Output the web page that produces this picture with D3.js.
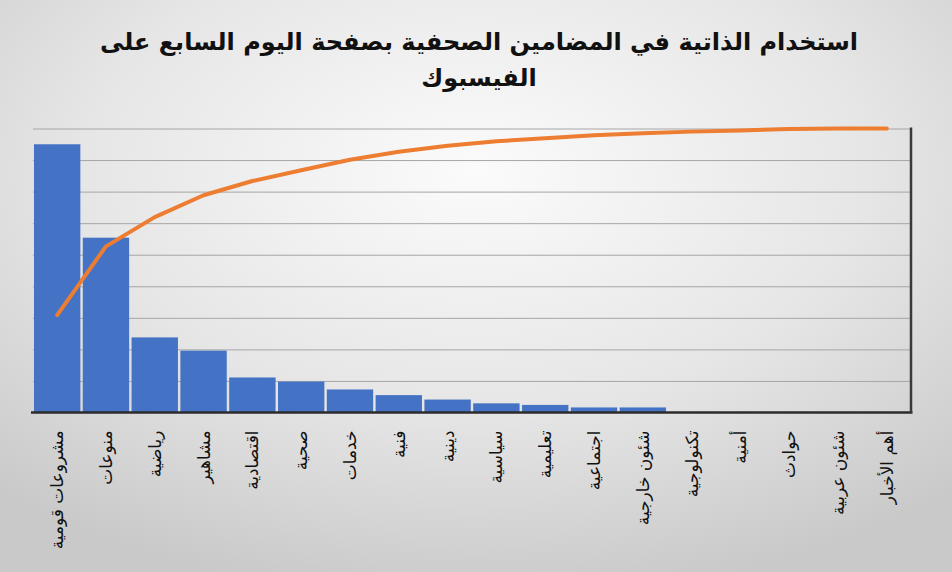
<!DOCTYPE html>
<html>
<head>
<meta charset="utf-8">
<script src="https://cdn.jsdelivr.net/npm/d3@7"></script>
<style>
  body { margin: 0; padding: 0; overflow: hidden; }
  .grid line { stroke: #a6a6a6; stroke-width: 1; }
  .grid path { display: none; }
  .xlab text { font-family: "DejaVu Sans", sans-serif; font-size: 17px; fill: #111; }
</style>
</head>
<body>
<div id="chart"></div>
<script>
      var categories = ['مشروعات قومية', 'منوعات', 'رياضية', 'مشاهير', 'اقتصادية', 'صحية', 'خدمات',
                        'فنية', 'دينية', 'سياسية', 'تعليمية', 'اجتماعية', 'شئون خارجية', 'تكنولوجية',
                        'أمنية', 'حوادث', 'شئون عربية', 'أهم الأخبار'];
      // bar heights (gridline = 10)
      var counts = [85, 55.4, 23.8, 19.6, 11.1, 9.8, 7.3, 5.5, 4.1, 2.9, 2.4, 1.6, 1.6, 0, 0, 0, 0, 0];
      // cumulative percent (orange line)
      var cumulative = [34.3, 58.5, 68.8, 76.5, 81.5, 85.3, 89.0, 91.8, 93.9, 95.5, 96.6, 97.6, 98.3,
                        98.9, 99.3, 99.8, 100, 100];
      var countTicks = [0, 10, 20, 30, 40, 50, 60, 70, 80, 90];
      var titleLines = ['استخدام الذاتية في المضامين الصحفية بصفحة اليوم السابع على', 'الفيسبوك'];

      var width = 952;
      var height = 572;
      var margin = { top: 128.5, right: 41, bottom: 159.5, left: 33 };

      var svg = d3.select('#chart').append('svg')
                  .attr('width', width)
                  .attr('height', height);

      // background
      var defs = svg.append('defs');
      var grad = defs.append('radialGradient').attr('id', 'bg')
                     .attr('cx', '50%').attr('cy', '30%').attr('r', '75%');
      grad.append('stop').attr('offset', '0%').attr('stop-color', '#fbfbfb');
      grad.append('stop').attr('offset', '55%').attr('stop-color', '#e6e6e6');
      grad.append('stop').attr('offset', '100%').attr('stop-color', '#c9c9c9');
      svg.append('rect').attr('width', width).attr('height', height).attr('fill', 'url(#bg)');

      var x = d3.scaleBand().domain(categories)
                .range([margin.left, width - margin.right])
                .paddingInner(0.05).paddingOuter(0.02);
      var y = d3.scaleLinear().domain([0, 90]).range([height - margin.bottom, margin.top]);
      var yPct = d3.scaleLinear().domain([0, 100]).range([height - margin.bottom, margin.top]);

      // gridlines
      svg.append('g').attr('class', 'grid')
         .attr('transform', 'translate(' + margin.left + ',0)')
         .call(d3.axisLeft(y).tickValues(countTicks.slice(1))
                 .tickSize(-(width - margin.left - margin.right)).tickFormat(''));

      // bars
      svg.append('g').selectAll('rect').data(counts).enter().append('rect')
         .attr('x', function(d, i){ return x(categories[i]); })
         .attr('y', function(d){ return y(d); })
         .attr('width', x.bandwidth())
         .attr('height', function(d){ return y(0) - y(d); })
         .attr('fill', '#4472c4');

      // axes lines
      svg.append('line')
         .attr('x1', margin.left - 2).attr('x2', width - margin.right + 1.5)
         .attr('y1', y(0)).attr('y2', y(0))
         .attr('stroke', '#2b2b2b').attr('stroke-width', 2.5);
      svg.append('line')
         .attr('x1', width - margin.right).attr('x2', width - margin.right)
         .attr('y1', yPct(100) - 1).attr('y2', y(0))
         .attr('stroke', '#3a3a3a').attr('stroke-width', 2.5);

      // cumulative line
      var line = d3.line()
                   .x(function(d, i){ return x(categories[i]) + x.bandwidth() / 2; })
                   .y(function(d){ return yPct(d); });
      svg.append('path').datum(cumulative)
         .attr('d', line)
         .attr('fill', 'none')
         .attr('stroke', '#ed7d31')
         .attr('stroke-width', 4)
         .attr('stroke-linejoin', 'round')
         .attr('stroke-linecap', 'round');

      // category labels, vertical
      var lab = svg.append('g').attr('class', 'xlab');
      categories.forEach(function(c) {
        lab.append('text')
           .attr('transform', 'translate(' + (x(c) + x.bandwidth() / 2) + ',' + (y(0) + 18) + ') rotate(-90)')
           .attr('text-anchor', 'end')
           .attr('dy', '0.35em')
           .text(c);
      });

      // title
      var title = svg.append('g');
      titleLines.forEach(function(t, i) {
        title.append('text')
             .attr('x', width / 2 + 3)
             .attr('y', 50 + i * 36)
             .attr('text-anchor', 'middle')
             .style('font-family', '"DejaVu Sans", sans-serif')
             .style('font-weight', 'bold')
             .style('font-size', '24px')
             .attr('fill', '#111')
             .text(t);
      });
</script>
</body>
</html>
